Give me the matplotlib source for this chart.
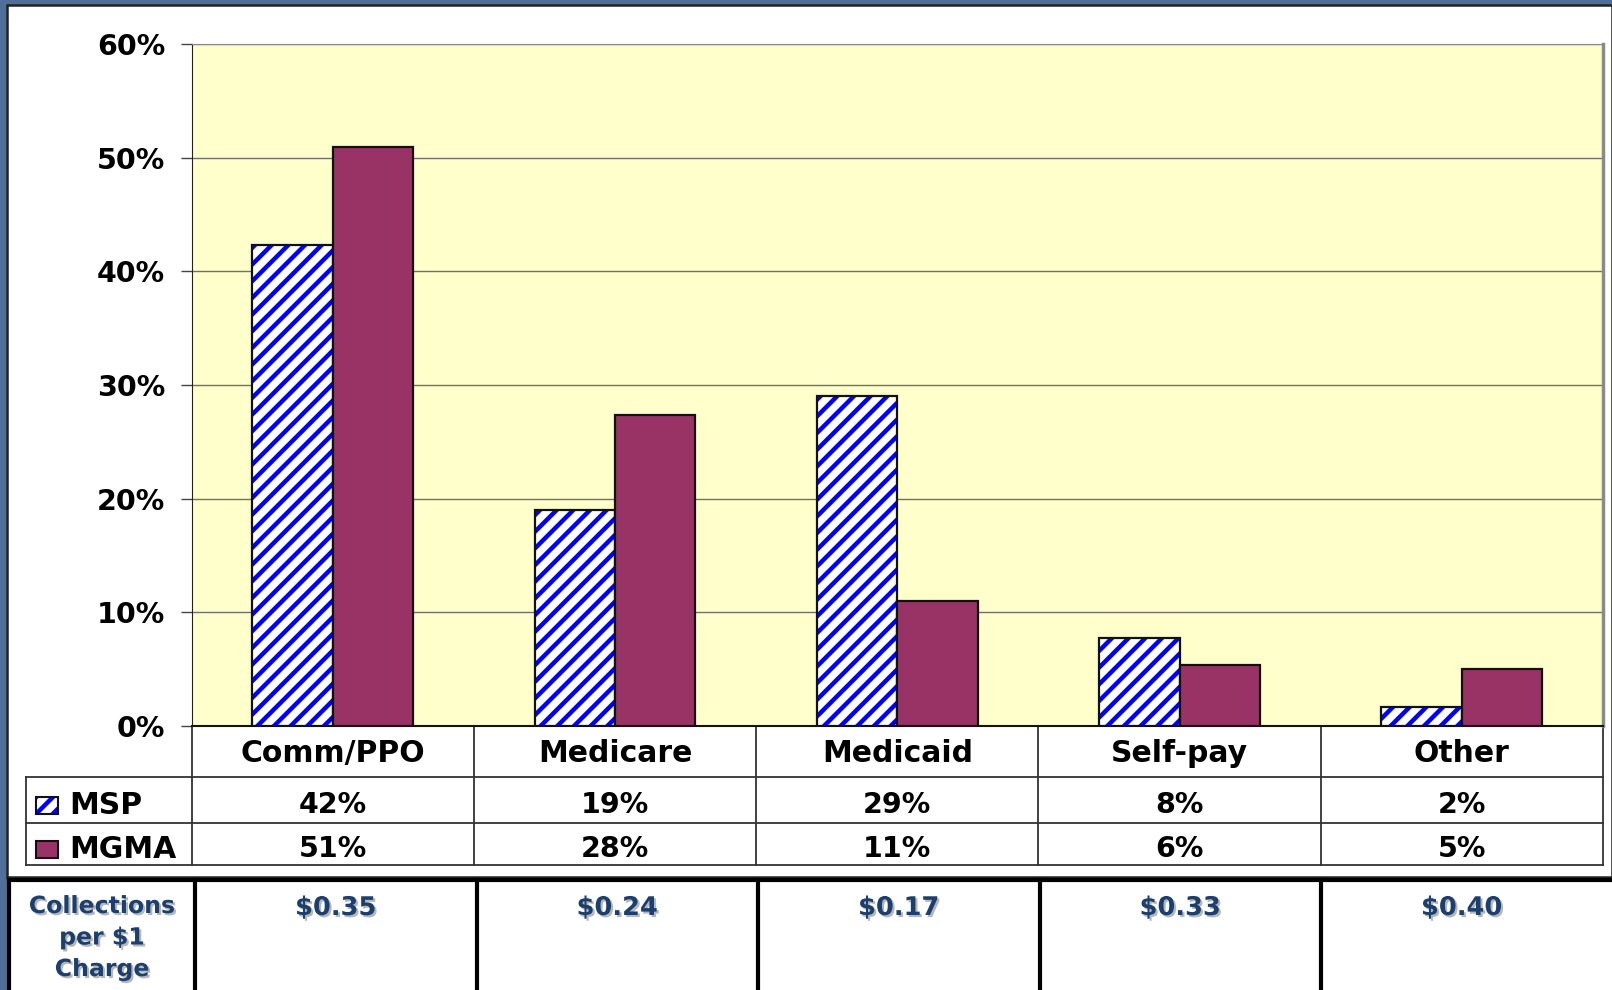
import numpy as np
import matplotlib.pyplot as plt
from matplotlib.patches import Rectangle
import matplotlib.patheffects as pe

categories = ["Comm/PPO", "Medicare", "Medicaid", "Self-pay", "Other"]
msp = [42.3, 19.0, 29.0, 7.7, 1.7]
mgma = [50.9, 27.4, 11.0, 5.4, 5.0]
msp_labels = ["42%", "19%", "29%", "8%", "2%"]
mgma_labels = ["51%", "28%", "11%", "6%", "5%"]
collections = ["$0.35", "$0.24", "$0.17", "$0.33", "$0.40"]
yticks = [0, 10, 20, 30, 40, 50, 60]

W, H = 1612, 990
plt.rcParams['font.family'] = ['DejaVu Sans']
plt.rcParams['font.weight'] = 'bold'
plt.rcParams['hatch.linewidth'] = 3.2

fig = plt.figure(figsize=(W / 100, H / 100), dpi=100)
fig.patch.set_facecolor('#4f6f99')

# background layer in pixel coordinates
bg = fig.add_axes([0, 0, 1, 1])
bg.set_xlim(0, W)
bg.set_ylim(H, 0)
bg.axis('off')
bg.add_patch(Rectangle((7, 5), W - 7, 872, fc='white', ec='#222222', lw=1.8))
bg.add_patch(Rectangle((9, 879), W - 9, H - 879, fc='white', ec='none'))

# main chart
x0, x1, ytop, ybase = 191.6, 1603, 44, 726
ax = fig.add_axes([x0 / W, (H - ybase) / H, (x1 - x0) / W, (ybase - ytop) / H])
ax.set_facecolor('#ffffcc')
x = np.arange(len(categories))
w = 0.285
ax.bar(x - w / 2, msp, w, color='white', edgecolor='blue', hatch='//', lw=0, zorder=3)
ax.bar(x - w / 2, msp, w, color='none', edgecolor='#111111', lw=1.6, zorder=4)
ax.bar(x + w / 2, mgma, w, color='#993366', edgecolor='#111111', lw=1.6, zorder=4)
ax.set_xlim(-0.5, len(categories) - 0.5)
ax.set_ylim(0, 60)
ax.set_yticks(yticks)
ax.set_yticklabels([f"{v}%" for v in yticks])
ax.set_xticks([])
ax.tick_params(axis='y', length=8, width=1, pad=11, labelsize=20.5, color='#444444')
ax.yaxis.grid(True, color='#707070', lw=1)
ax.set_axisbelow(True)
ax.spines['left'].set_color('#222222')
ax.spines['bottom'].set_color('#111111')
ax.spines['bottom'].set_linewidth(1.5)
ax.spines['top'].set_color('#8a8a8a')
ax.spines['right'].set_color('#8a8a8a')
ax.spines['right'].set_linewidth(2.5)

# data table under the chart
col_w = (x1 - x0) / len(categories)
r_cat, r_msp, r_mgma = 777, 823, 865
lc = '#333333'
for k in range(len(categories) + 1):
    bx = x0 + k * col_w
    bg.plot([bx, bx], [ybase, r_mgma], color=lc, lw=1.3)
bg.plot([26, 26], [r_cat, r_mgma], color=lc, lw=1.3)
for ry in [r_cat, r_msp, r_mgma]:
    bg.plot([26, x1], [ry, ry], color=lc, lw=1.3)

for i, cat in enumerate(categories):
    cx = x0 + (i + 0.5) * col_w
    bg.text(cx, (ybase + r_cat) / 2 + 2, cat, ha='center', va='center', fontsize=21.5)
    bg.text(cx, (r_cat + r_msp) / 2 + 5, msp_labels[i], ha='center', va='center', fontsize=20.5)
    bg.text(cx, (r_msp + r_mgma) / 2 + 5, mgma_labels[i], ha='center', va='center', fontsize=20.5)

bg.add_patch(Rectangle((36, 797), 22, 17, fc='white', ec='blue', lw=0, hatch='//'))
bg.add_patch(Rectangle((36, 797), 22, 17, fc='none', ec='#111111', lw=1.5))
bg.add_patch(Rectangle((36, 841), 22, 17, fc='#993366', ec='#111111', lw=1.5))
bg.text(69, (r_cat + r_msp) / 2 + 5, "MSP", ha='left', va='center', fontsize=21.5)
bg.text(69, (r_msp + r_mgma) / 2 + 5, "MGMA", ha='left', va='center', fontsize=21.5)

# collections row
bg.plot([9, W], [880, 880], color='black', lw=3)
lb0, lbw = 195, 281.5
bg.plot([9, 9], [880, H], color='black', lw=3)
for k in range(len(categories)):
    bg.plot([lb0 + k * lbw, lb0 + k * lbw], [880, H], color='black', lw=3)

navy = '#1b3f6e'
shadow = [pe.withSimplePatchShadow(offset=(1.5, -1.5), shadow_rgbFace='#888888', alpha=0.6)]
for i, c in enumerate(collections):
    bg.text(lb0 + (i + 0.5) * lbw, 908, c, ha='center', va='center', fontsize=18.5,
            color=navy, path_effects=shadow)
for j, line in enumerate(["Collections", "per $1", "Charge"]):
    bg.text(102, 906 + j * 31.5, line, ha='center', va='center', fontsize=17,
            color=navy, path_effects=shadow)

fig.savefig("out.png", dpi=100, facecolor=fig.get_facecolor())
